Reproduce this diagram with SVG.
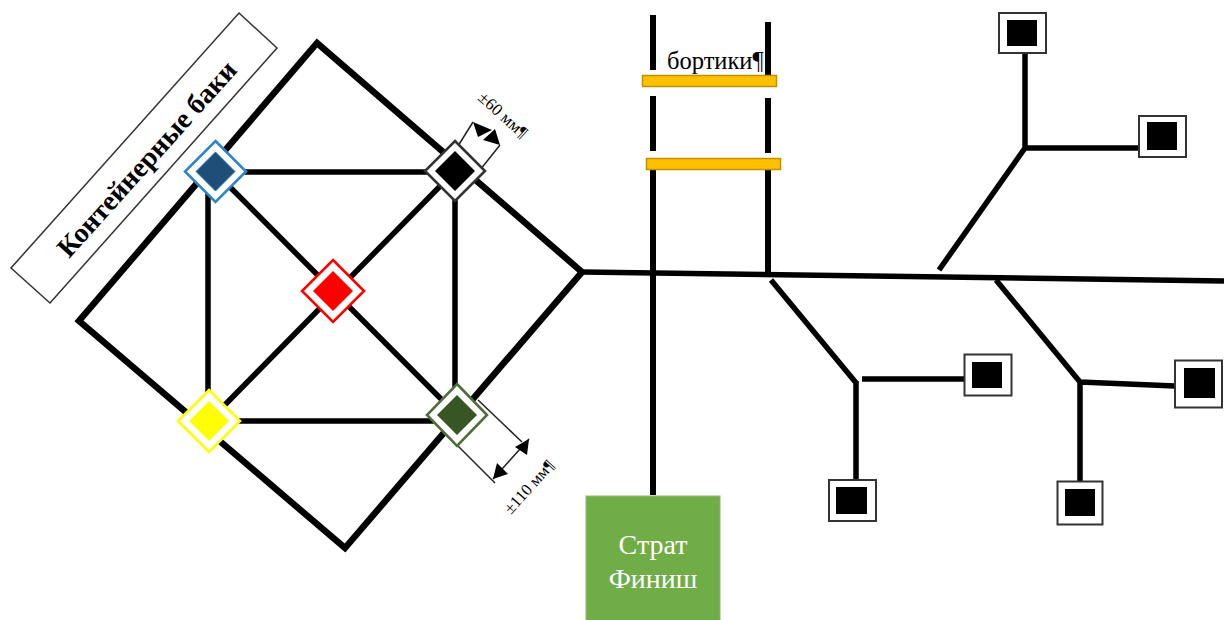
<svg xmlns="http://www.w3.org/2000/svg" width="1224" height="620" viewBox="0 0 1224 620">
<style>
text{font-family:"Liberation Serif","Times New Roman",serif;fill:#000}
.big{fill:none;stroke:#000;stroke-width:6.500;stroke-linejoin:miter}
.w5{fill:none;stroke:#000;stroke-width:6}
.w4{fill:none;stroke:#000;stroke-width:5.500}
.dim{fill:none;stroke:#222;stroke-width:1.500}
.bar{fill:#ffc000;stroke:#bf9000;stroke-width:1.500}
.outer{fill:#fff;stroke:#333;stroke-width:2}
.inner{fill:#000}
.dw{fill:#fff;stroke-width:2.600}
</style>
<rect width="1224" height="620" fill="#fff"/>
<g id="connectors">
<path class="big" d="M317 43L582 272L345 548L79 321Z"/>
<path class="w4" d="M215 172H455M209 421H457M208 172V421M455 171V415M215 172L457 415M455 171L209 421"/>
<path class="w4" d="M582 272L1224 281"/>
<path class="w5" d="M653 15V70M653 96V151M653 170V495M768 22V76M768 98V153M768 170V276"/>
<path class="w4" d="M771 280L857 384M856 381V481M862 379H965"/>
<path class="w4" d="M996 280L1080 382M1080 380V481M1080 382L1175 386"/>
<path class="w4" d="M939 270L1025 148M1025 53V148M1025 148H1139"/>
<path class="dim" d="M473 122L458 146M500 145L480 170M478 400L522 442M457 445L495 483M529 439L493 479"/>
<polygon points="473,122 492,130 478,137" fill="#000"/>
<polygon points="500,145 483,140 495,129" fill="#000"/>
<polygon points="529,439 515,447 527,455" fill="#000"/>
<polygon points="493,479 497,463 508,474" fill="#000"/>
</g>
<g id="label-tanks">
<polygon points="239,13 277,48 50,303 11,268" fill="#fff" stroke="#333" stroke-width="1.500"/>
<text transform="translate(147 159) rotate(-48)" x="0" y="9" text-anchor="middle" font-size="28" font-weight="bold">Контейнерные баки</text>
</g>
<g id="tank-blue"><polygon class="dw" stroke="#2e86c8" points="215.5,141 246,171.5 215.5,202 185,171.5"/><polygon fill="#1f4e79" stroke="#2e75b6" stroke-width="1" points="215.5,152 235,171.5 215.5,191 196,171.5"/></g>
<g id="tank-black"><polygon class="dw" stroke="#333" points="455,141 485,171 455,201 425,171"/><polygon fill="#000" points="455,151 475,171 455,191 435,171"/></g>
<g id="tank-red"><polygon class="dw" stroke="#f00" points="333,260 364,291 333,322 302,291"/><polygon fill="#f00" points="333,271 353,291 333,311 313,291"/></g>
<g id="tank-yellow"><polygon class="dw" stroke="#ff0" points="209,390 240,421 209,452 178,421"/><polygon fill="#ff0" points="209,401 229,421 209,441 189,421"/></g>
<g id="tank-green"><polygon class="dw" stroke="#4f6f3a" points="457,384 487,415 457,446 427,415"/><polygon fill="#375623" points="457,395 477,415 457,435 437,415"/></g>
<g id="dim-60"><text transform="translate(477 99) rotate(42)" font-size="17">±60 мм¶</text></g>
<g id="dim-110"><text transform="translate(511 515) rotate(-48)" font-size="16.500">±110 мм¶</text></g>
<g id="rail-1"><rect class="bar" x="642.500" y="75.500" width="134" height="11"/></g>
<g id="rail-2"><rect class="bar" x="646.500" y="158.500" width="134" height="11"/></g>
<g id="label-rails"><text x="667" y="69" font-size="24.500">бортики¶</text></g>
<g id="start-finish">
<rect x="586" y="496" width="134" height="126" fill="#70ad47" stroke="#8fb77a" stroke-width="1"/>
<text x="653" y="554" text-anchor="middle" font-size="28" style="fill:#fff">Страт</text>
<text x="653" y="588" text-anchor="middle" font-size="28" style="fill:#fff">Финиш</text>
</g>
<g id="sq-1"><rect class="outer" x="999" y="13" width="47" height="40"/><rect class="inner" x="1007" y="20" width="30" height="26"/></g>
<g id="sq-2"><rect class="outer" x="1139" y="116" width="47" height="41"/><rect class="inner" x="1147" y="122" width="30" height="28"/></g>
<g id="sq-3"><rect class="outer" x="964.500" y="354.500" width="47" height="41"/><rect class="inner" x="972" y="362" width="30" height="26"/></g>
<g id="sq-4"><rect class="outer" x="1175" y="360.500" width="47" height="47"/><rect class="inner" x="1184" y="368" width="31" height="30"/></g>
<g id="sq-5"><rect class="outer" x="829" y="480" width="47" height="41"/><rect class="inner" x="836" y="487" width="31" height="27"/></g>
<g id="sq-6"><rect class="outer" x="1057.500" y="481.500" width="45" height="43"/><rect class="inner" x="1065" y="489" width="30" height="27"/></g>
</svg>
